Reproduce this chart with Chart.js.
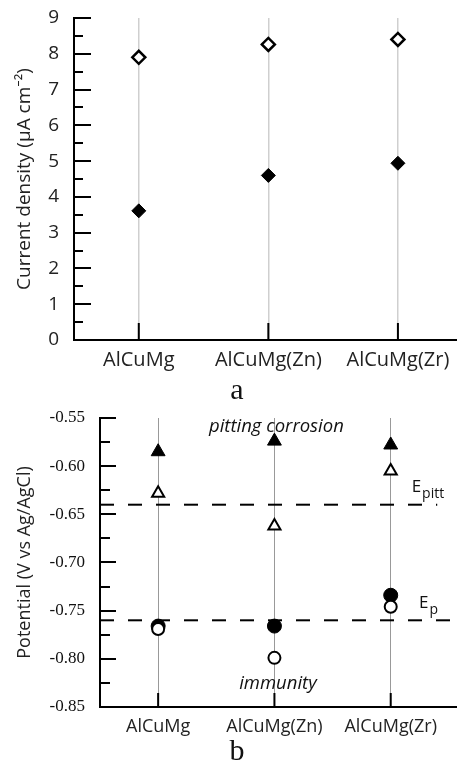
<!DOCTYPE html>
<html>
<head>
<meta charset="utf-8">
<script src="https://cdn.jsdelivr.net/npm/chart.js@4/dist/chart.umd.min.js"></script>
<style>
html,body{margin:0;padding:0;background:#fff;}
#wrap{position:relative;width:457px;height:764px;overflow:hidden;background:#fff;}
canvas{position:absolute;left:0;}
#c1{top:0;}
#c2{top:380px;}
.sub{position:absolute;font-family:"Liberation Serif","Times New Roman",serif;font-size:30px;color:#111;line-height:1;transform:translate(-50%,-50%);}
</style>
</head>
<body>
<div id="wrap">
<canvas id="c1" width="457" height="380"></canvas>
<canvas id="c2" width="457" height="384"></canvas>
<div class="sub" id="la" style="left:237px;top:389px;">a</div>
<div class="sub" id="lb" style="left:237px;top:750px;">b</div>
</div>
<script>
// ---------- data ----------
const categories = ['AlCuMg', 'AlCuMg(Zn)', 'AlCuMg(Zr)'];

// panel a: current density (µA cm-2)
const currentOpen   = [7.90, 8.26, 8.40];
const currentFilled = [3.61, 4.60, 4.94];
const currentTicks  = [0, 1, 2, 3, 4, 5, 6, 7, 8, 9];
const currentMinor  = [0.5, 1.5, 2.5, 3.5, 4.5, 5.5, 6.5, 7.5, 8.5];

// panel b: potential (V vs Ag/AgCl)
const pittFilled = [-0.585, -0.574, -0.578];
const pittOpen   = [-0.628, -0.662, -0.605];
const epFilled   = [-0.766, -0.766, -0.734];
const epOpen     = [-0.769, -0.799, -0.746];
const potentialTicks = [-0.85, -0.80, -0.75, -0.70, -0.65, -0.60, -0.55];
const potentialMinor = [-0.825, -0.775, -0.725, -0.675, -0.625, -0.575];
const ePittLevel = -0.64;
const ePLevel    = -0.76;

const panelLabels = ['a', 'b'];
const yTitleA = 'Current density (µA cm⁻²)';
const yTitleB = 'Potential (V vs Ag/AgCl)';
const textPitting = 'pitting corrosion';
const textImmunity = 'immunity';

document.getElementById('la').textContent = panelLabels[0];
document.getElementById('lb').textContent = panelLabels[1];

const toPts = arr => arr.map((v, i) => ({x: i, y: v}));

// ---------- plugin: inward axis ticks ----------
const inwardTicks = {
  id: 'inwardTicks',
  afterDraw(chart, args, o) {
    const ctx = chart.ctx, ca = chart.chartArea;
    const xs = chart.scales.x, ys = chart.scales.y;
    ctx.save();
    ctx.strokeStyle = '#000';
    ctx.lineWidth = o.width;
    ctx.lineCap = 'butt';
    ctx.beginPath();
    o.major.forEach(v => { const y = Math.round(ys.getPixelForValue(v)); ctx.moveTo(ca.left, y); ctx.lineTo(ca.left + o.majorLen, y); });
    o.minor.forEach(v => { const y = Math.round(ys.getPixelForValue(v)); ctx.moveTo(ca.left, y); ctx.lineTo(ca.left + o.minorLen, y); });
    categories.forEach((c, i) => { const x = xs.getPixelForValue(i); ctx.moveTo(x, ca.bottom); ctx.lineTo(x, ca.bottom - o.xLen); });
    ctx.stroke();
    ctx.restore();
  }
};

// ---------- plugin: text annotations ----------
const annotText = {
  id: 'annotText',
  afterDraw(chart, args, o) {
    if (!o.items) return;
    const ctx = chart.ctx, xs = chart.scales.x, ys = chart.scales.y;
    ctx.save();
    o.items.forEach(it => {
      const x = xs.getPixelForValue(it.x), y = ys.getPixelForValue(it.y);
      ctx.font = it.font;
      ctx.fillStyle = '#111';
      ctx.textAlign = it.align || 'center';
      ctx.textBaseline = 'middle';
      ctx.fillText(it.text, x, y);
      if (it.sub) {
        const w = ctx.measureText(it.text).width;
        ctx.font = it.subFont;
        ctx.textAlign = 'left';
        ctx.fillText(it.sub, x + w + 1, y + it.subDy);
      }
    });
    ctx.restore();
  }
};

const sansFont = '"Open Sans", "Noto Sans", sans-serif';
const fitY = w => s => { s.width = w; s.paddingTop = 0; s.paddingBottom = 0; };
const fitX = h => s => { s.height = h; s.paddingLeft = 0; s.paddingRight = 0; };

// ---------- chart a ----------
new Chart(document.getElementById('c1'), {
  type: 'scatter',
  data: {
    datasets: [
      { data: toPts(currentOpen), pointStyle: 'rectRot', pointRadius: 6.5, backgroundColor: '#fff', borderColor: '#000', borderWidth: 2.5 },
      { data: toPts(currentFilled), pointStyle: 'rectRot', pointRadius: 7, backgroundColor: '#000', borderColor: '#000', borderWidth: 1 }
    ]
  },
  options: {
    responsive: false, animation: false, events: [],
    layout: { autoPadding: false, padding: { top: 18, right: 0, left: 0, bottom: 0 } },
    plugins: {
      legend: { display: false }, tooltip: { enabled: false },
      inwardTicks: { major: currentTicks, minor: currentMinor, majorLen: 17, minorLen: 9, xLen: 17, width: 2 }
    },
    scales: {
      x: {
        type: 'linear', min: -0.5, max: 2.456,
        afterBuildTicks: s => { s.ticks = categories.map((c, i) => ({ value: i })); },
        ticks: { callback: v => categories[v], font: { family: sansFont, size: 20 }, color: '#222', padding: 8, maxRotation: 0, autoSkip: false },
        grid: { color: '#cfcfcf', lineWidth: 1.5, drawTicks: false },
        border: { color: '#000', width: 2 },
        afterFit: fitX(40)
      },
      y: {
        min: 0, max: 9,
        afterBuildTicks: s => { s.ticks = currentTicks.map(v => ({ value: v })); },
        ticks: { font: { family: sansFont, size: 19 }, color: '#222', padding: 15 },
        grid: { display: false, drawTicks: false },
        border: { color: '#000', width: 2 },
        title: { display: true, text: yTitleA, font: { family: sansFont, size: 19 }, color: '#222', padding: { top: 13.6, bottom: 0 } },
        afterFit: fitY(74)
      }
    }
  },
  plugins: [inwardTicks]
});

// ---------- chart b ----------
new Chart(document.getElementById('c2'), {
  type: 'scatter',
  data: {
    datasets: [
      { data: toPts(pittFilled), pointStyle: 'triangle', pointRadius: 8, backgroundColor: '#000', borderColor: '#000', borderWidth: 1 },
      { data: toPts(pittOpen), pointStyle: 'triangle', pointRadius: 7, backgroundColor: '#fff', borderColor: '#000', borderWidth: 2 },
      { data: toPts(epOpen), pointStyle: 'circle', pointRadius: 6, backgroundColor: '#fff', borderColor: '#000', borderWidth: 2 },
      { data: toPts(epFilled), pointStyle: 'circle', pointRadius: 7, backgroundColor: '#000', borderColor: '#000', borderWidth: 1 },
      { data: [{ x: -0.5, y: ePittLevel }, { x: 2.4, y: ePittLevel }], showLine: true, pointRadius: 0, borderColor: '#000', borderWidth: 2, borderDash: [14, 14], fill: false },
      { data: [{ x: -0.5, y: ePLevel }, { x: 2.53, y: ePLevel }], showLine: true, pointRadius: 0, borderColor: '#000', borderWidth: 2, borderDash: [14, 14], fill: false }
    ]
  },
  options: {
    responsive: false, animation: false, events: [],
    layout: { autoPadding: false, padding: { top: 38, right: 0, left: 0, bottom: 0 } },
    plugins: {
      legend: { display: false }, tooltip: { enabled: false },
      inwardTicks: { major: potentialTicks, minor: potentialMinor, majorLen: 16, minorLen: 10, xLen: 14, width: 2 },
      annotText: { items: [
        { text: textPitting, x: 1.017, y: -0.559, font: 'italic 18.5px ' + sansFont },
        { text: textImmunity, x: 1.03, y: -0.826, font: 'italic 18.5px ' + sansFont },
        { text: 'E', x: 2.18, y: -0.6213, font: '17px ' + sansFont, align: 'left', sub: 'pitt', subFont: '14px ' + sansFont, subDy: 7 },
        { text: 'E', x: 2.243, y: -0.742, font: '17px ' + sansFont, align: 'left', sub: 'p', subFont: '14px ' + sansFont, subDy: 7 }
      ] }
    },
    scales: {
      x: {
        type: 'linear', min: -0.5, max: 2.57,
        afterBuildTicks: s => { s.ticks = categories.map((c, i) => ({ value: i })); },
        ticks: { callback: v => categories[v], font: { family: sansFont, size: 18 }, color: '#222', padding: 9, maxRotation: 0, autoSkip: false },
        grid: { color: '#999', lineWidth: 1, drawTicks: false },
        border: { color: '#000', width: 2 },
        afterFit: fitX(57)
      },
      y: {
        min: -0.85, max: -0.55,
        afterBuildTicks: s => { s.ticks = potentialTicks.map(v => ({ value: v })); },
        ticks: { callback: v => v.toFixed(2), font: { family: '"Liberation Serif", serif', size: 17 }, color: '#111', padding: 15 },
        grid: { display: false, drawTicks: false },
        border: { color: '#000', width: 2 },
        title: { display: true, text: yTitleB, font: { family: sansFont, size: 18 }, color: '#222', padding: { top: 14.2, bottom: 0 } },
        afterFit: fitY(100)
      }
    }
  },
  plugins: [inwardTicks, annotText]
});
</script>
</body>
</html>
